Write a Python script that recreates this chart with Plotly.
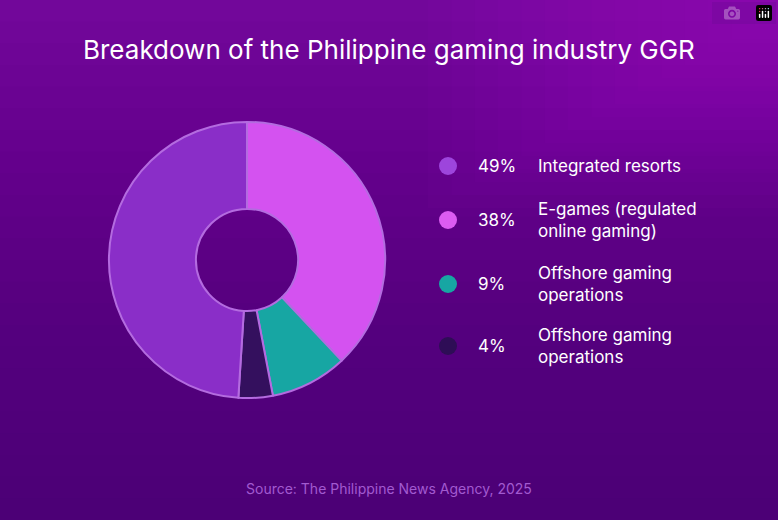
import plotly.graph_objects as go

# data
labels = ["E-games (regulated online gaming)", "Offshore gaming operations",
          "Offshore gaming operations ", "Integrated resorts"]
values = [38, 9, 4, 49]
colors = ["#d452f0", "#17a6a3", "#34105e", "#8a2ec8"]

legend_pct = ["49%", "38%", "9%", "4%"]
legend_text = ["Integrated resorts", "E-games (regulated<br>online gaming)",
               "Offshore gaming<br>operations", "Offshore gaming<br>operations"]
legend_col = ["#9d45dc", "#dc5cf2", "#17a6a3", "#2e0d56"]

W, H = 778, 520
fig = go.Figure(go.Pie(
    labels=labels, values=values, hole=0.37, sort=False, direction="clockwise",
    rotation=0, marker=dict(colors=colors, line=dict(color="#b46be0", width=2)),
    textinfo="none", hoverinfo="label+percent", showlegend=False,
    domain=dict(x=[0.14, 0.495], y=[0.22, 0.78]),
))

# fake gradient background
shapes = []
for i in range(24):
    shapes.append(dict(type="rect", xref="paper", yref="paper", layer="below",
                       x0=0, x1=1, y0=0, y1=1 - i / 24, line_width=0,
                       fillcolor="rgba(40,0,70,0.025)"))
for i in range(16):
    shapes.append(dict(type="rect", xref="paper", yref="paper", layer="below",
                       x0=0.55 + i * 0.03, x1=1, y0=0.6 + i * 0.025, y1=1, line_width=0,
                       fillcolor="rgba(200,40,230,0.03)"))

rows_y = [166, 220, 284, 346]
ann = []
for y, p, t, c in zip(rows_y, legend_pct, legend_text, legend_col):
    yp = 1 - y / H
    shapes.append(dict(type="circle", xref="paper", yref="paper",
                       x0=439 / W, x1=457 / W, y0=yp - 9 / H, y1=yp + 9 / H,
                       fillcolor=c, line_width=0))
    ann.append(dict(text=p, x=476 / W, y=yp, xref="paper", yref="paper",
                    xanchor="left", yanchor="middle", showarrow=False,
                    font=dict(size=17, color="white")))
    ann.append(dict(text=t, x=536 / W, y=yp, xref="paper", yref="paper",
                    xanchor="left", yanchor="middle", showarrow=False, align="left",
                    font=dict(size=17, color="white")))

ann.append(dict(text="Breakdown of the Philippine gaming industry GGR", x=0.5, y=1 - 50 / H,
                xref="paper", yref="paper", showarrow=False, yanchor="middle",
                font=dict(size=26, color="white")))
ann.append(dict(text="Source: The Philippine News Agency, 2025", x=0.5, y=1 - 488 / H,
                xref="paper", yref="paper", showarrow=False, yanchor="middle",
                font=dict(size=14, color="#a25ad0")))

fig.update_layout(width=W, height=H, margin=dict(l=0, r=0, t=0, b=0),
                  paper_bgcolor="#74089c", plot_bgcolor="#74089c",
                  font=dict(family="Inter"), shapes=shapes, annotations=ann)
fig.write_html("out.html", post_script="document.body.style.margin='0';")
